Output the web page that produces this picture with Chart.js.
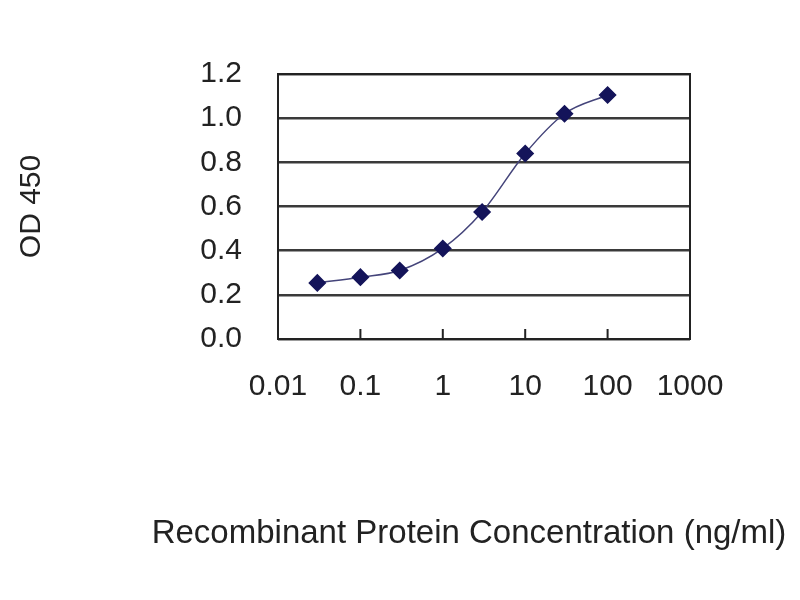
<!DOCTYPE html>
<html>
<head>
<meta charset="utf-8">
<script src="https://cdn.jsdelivr.net/npm/chart.js@4/dist/chart.umd.min.js"></script>
<style>
    body { margin: 0; background: #fff; }
    #wrap { width: 800px; height: 600px; }
</style>
</head>
<body>
<div id="wrap"><canvas id="odChart" width="800" height="600"></canvas></div>
<script>
// concentrations (ng/ml) and OD 450 readings
const concentrations = [0.03, 0.1, 0.3, 1, 3, 10, 30, 100];
const odValues = [0.254, 0.28, 0.31, 0.41, 0.575, 0.84, 1.02, 1.105];
const xTickValues = [0.01, 0.1, 1, 10, 100, 1000];
const yTickValues = [0, 0.2, 0.4, 0.6, 0.8, 1.0, 1.2];
const xTitle = 'Recombinant Protein Concentration (ng/ml)';

const fontFamily = "Arial, 'Liberation Sans', sans-serif";

// box around the plot, small inner ticks on the x axis, and the wide x title
const framePlugin = {
    id: 'frame',
    afterDraw(chart) {
        const { ctx, chartArea: a, scales } = chart;
        ctx.save();
        ctx.strokeStyle = '#222';
        ctx.lineWidth = 2;
        ctx.strokeRect(a.left, a.top, a.right - a.left, a.bottom - a.top);
        ctx.beginPath();
        xTickValues.forEach(v => {
            const x = scales.x.getPixelForValue(v);
            ctx.moveTo(x, a.bottom);
            ctx.lineTo(x, a.bottom - 10);
        });
        ctx.stroke();

        // the title is wider than the axis, so it is drawn here (Chart.js would squeeze it)
        ctx.fillStyle = '#222';
        ctx.font = '33px ' + fontFamily;
        ctx.textAlign = 'center';
        ctx.textBaseline = 'alphabetic';
        ctx.fillText(xTitle, (a.left + a.right) / 2 - 15, 543);
        ctx.restore();
    }
};

const ctx = document.getElementById('odChart').getContext('2d');

new Chart(ctx, {
    type: 'line',
    data: {
        datasets: [{
            data: concentrations.map((c, i) => ({ x: c, y: odValues[i] })),
            borderColor: '#44447a',
            borderWidth: 1.5,
            cubicInterpolationMode: 'monotone',
            pointStyle: 'rectRot',
            pointRadius: 8,
            pointBackgroundColor: '#14145a',
            pointBorderColor: '#14145a',
            fill: false
        }]
    },
    options: {
        responsive: false,
        animation: false,
        layout: { padding: { top: 74, right: 110, left: 14, bottom: 0 } },
        plugins: {
            legend: { display: false },
            tooltip: { enabled: false }
        },
        scales: {
            x: {
                type: 'logarithmic',
                min: 0.01,
                max: 1000,
                afterBuildTicks: scale => {
                    scale.ticks = xTickValues.map(v => ({ value: v }));
                },
                afterFit: scale => { scale.height = 261; },
                grid: { display: false },
                border: { display: false },
                ticks: {
                    padding: 22,
                    color: '#222',
                    font: { family: fontFamily, size: 30 },
                    maxRotation: 0,
                    autoSkip: false,
                    callback: v => String(v)
                }
            },
            y: {
                min: 0,
                max: 1.2,
                afterBuildTicks: scale => {
                    scale.ticks = yTickValues.map(v => ({ value: v }));
                },
                afterFit: scale => { scale.width = 264; },
                grid: { color: '#3a3a3a', lineWidth: 2.5, drawTicks: false },
                border: { display: false },
                ticks: {
                    padding: 36,
                    color: '#222',
                    font: { family: fontFamily, size: 30 },
                    callback: v => v.toFixed(1)
                },
                title: {
                    display: true,
                    text: 'OD 450',
                    color: '#222',
                    font: { family: fontFamily, size: 30 },
                    padding: { top: 0, bottom: 0 }
                }
            }
        }
    },
    plugins: [framePlugin]
});
</script>
</body>
</html>
